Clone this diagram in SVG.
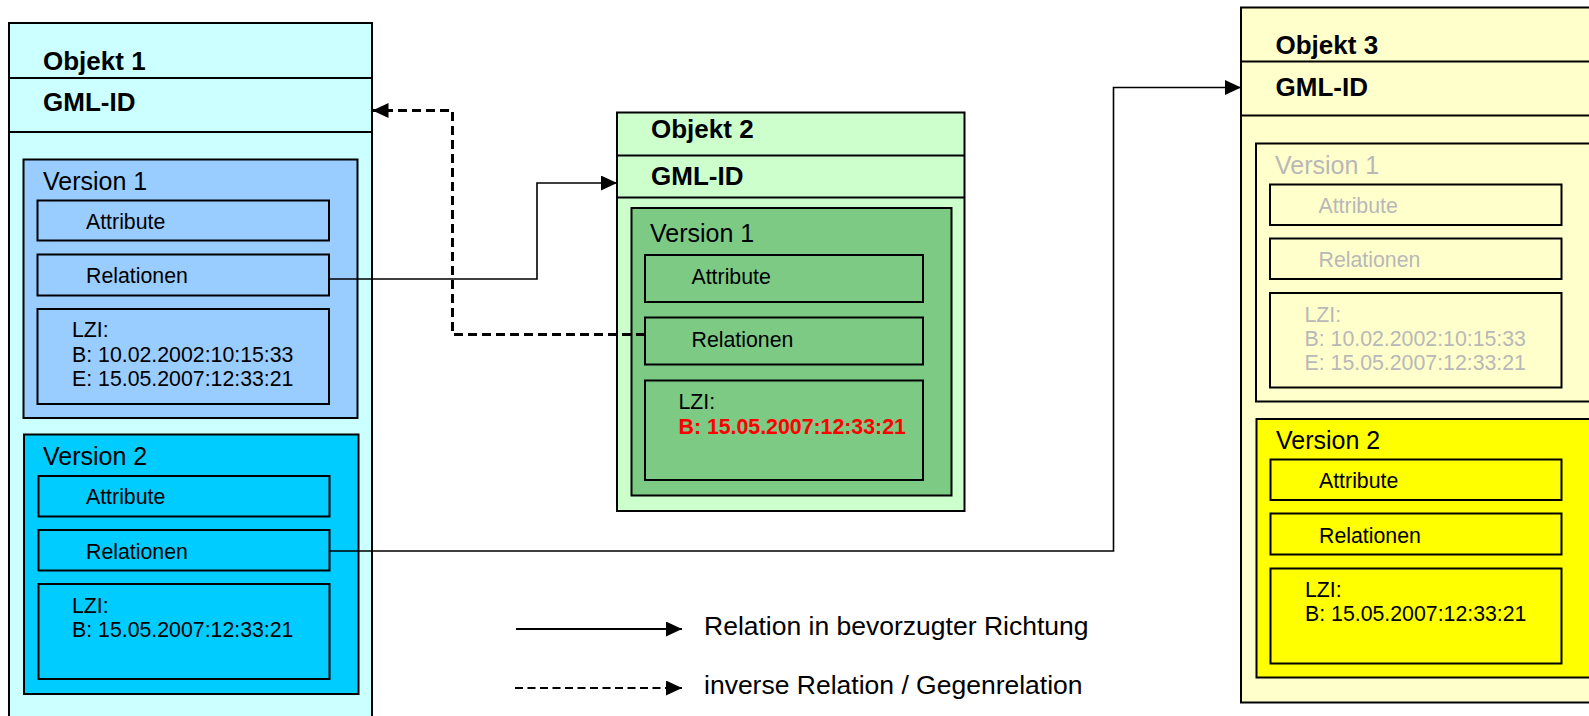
<svg xmlns="http://www.w3.org/2000/svg" width="1589" height="716" viewBox="0 0 1589 716">
<defs>
<style>
.b{stroke:#000;stroke-width:2}
.hd{font-family:"Liberation Sans",Arial,sans-serif;font-weight:bold;font-size:26px;fill:#000}
.ver{font-family:"Liberation Sans",Arial,sans-serif;font-size:25px;fill:#000}
.t{font-family:"Liberation Sans",Arial,sans-serif;font-size:21.3px;fill:#000}
.g{fill:#B8B8B8}
.red{fill:#FF0000;font-weight:bold}
.lg{font-family:"Liberation Sans",Arial,sans-serif;font-size:26.5px;fill:#000}
.c{fill:none;stroke:#000;stroke-width:1.6}
.d{fill:none;stroke:#000;stroke-width:3;stroke-dasharray:9 5}
</style>
<marker id="ah" markerUnits="userSpaceOnUse" markerWidth="16" markerHeight="15" refX="16" refY="7.5" orient="auto">
<path d="M0,0 L16,7.5 L0,15 z" fill="#000"/>
</marker>
</defs>
<rect width="1589" height="716" fill="#fff"/>

<g id="objekt1">
<rect x="9" y="23" width="363" height="710" fill="#CCFFFF" class="b"/>
<line x1="9" y1="78" x2="372" y2="78" class="b"/>
<line x1="9" y1="132" x2="372" y2="132" class="b"/>
<text x="43" y="70" class="hd">Objekt 1</text>
<text x="43" y="111" class="hd">GML-ID</text>
<g id="o1v1">
<rect x="23.5" y="159.5" width="334" height="258.5" fill="#99CCFF" class="b"/>
<text x="43" y="190" class="ver">Version 1</text>
<rect x="37.5" y="200.5" width="291.5" height="40" fill="#99CCFF" class="b"/>
<text x="86" y="229" class="t">Attribute</text>
<rect x="37.5" y="254.5" width="291.5" height="41" fill="#99CCFF" class="b"/>
<text x="86" y="283" class="t">Relationen</text>
<rect x="37.5" y="309" width="291.5" height="95" fill="#99CCFF" class="b"/>
<text x="72" y="337" class="t">LZI:</text>
<text x="72" y="361.5" class="t">B: 10.02.2002:10:15:33</text>
<text x="72" y="385.5" class="t">E: 15.05.2007:12:33:21</text>
</g>
<g id="o1v2">
<rect x="24" y="434.5" width="334.5" height="259.5" fill="#00CCFF" class="b"/>
<text x="43" y="465" class="ver">Version 2</text>
<rect x="38.5" y="476" width="291" height="40.5" fill="#00CCFF" class="b"/>
<text x="86" y="504" class="t">Attribute</text>
<rect x="38.5" y="530" width="291" height="40.5" fill="#00CCFF" class="b"/>
<text x="86" y="558.5" class="t">Relationen</text>
<rect x="38.5" y="584" width="291" height="95" fill="#00CCFF" class="b"/>
<text x="72" y="612.5" class="t">LZI:</text>
<text x="72" y="636.5" class="t">B: 15.05.2007:12:33:21</text>
</g>
</g>

<g id="objekt2">
<rect x="617" y="112.5" width="347.5" height="398.5" fill="#CCFFCC" class="b"/>
<line x1="617" y1="155.5" x2="964.5" y2="155.5" class="b"/>
<line x1="617" y1="197.5" x2="964.5" y2="197.5" class="b"/>
<text x="651" y="137.5" class="hd">Objekt 2</text>
<text x="651" y="185" class="hd">GML-ID</text>
<g id="o2v1">
<rect x="631.5" y="208" width="320" height="287.5" fill="#7DCA85" class="b"/>
<text x="650" y="241.5" class="ver">Version 1</text>
<rect x="645" y="255" width="278" height="47" fill="#7DCA85" class="b"/>
<text x="691.5" y="283.5" class="t">Attribute</text>
<rect x="645" y="317.5" width="278" height="47" fill="#7DCA85" class="b"/>
<text x="691.5" y="346.5" class="t">Relationen</text>
<rect x="645" y="380.5" width="278" height="99.5" fill="#7DCA85" class="b"/>
<text x="678.5" y="409" class="t">LZI:</text>
<text x="678.5" y="433.5" class="t red">B: 15.05.2007:12:33:21</text>
</g>
</g>

<g id="objekt3">
<rect x="1241" y="7.5" width="380" height="695" fill="#FFFFCC" class="b"/>
<line x1="1241" y1="61.5" x2="1600" y2="61.5" class="b"/>
<line x1="1241" y1="115.5" x2="1600" y2="115.5" class="b"/>
<text x="1275.5" y="53.5" class="hd">Objekt 3</text>
<text x="1275.5" y="95.5" class="hd">GML-ID</text>
<g id="o3v1">
<rect x="1256" y="143.5" width="360" height="258" fill="#FFFFCC" class="b"/>
<text x="1275" y="173.5" class="ver g">Version 1</text>
<rect x="1270" y="184.5" width="291.5" height="40.5" fill="#FFFFCC" class="b"/>
<text x="1318.5" y="212.5" class="t g">Attribute</text>
<rect x="1270" y="238.5" width="291.5" height="40.5" fill="#FFFFCC" class="b"/>
<text x="1318.5" y="266.5" class="t g">Relationen</text>
<rect x="1270" y="293" width="291.5" height="94.5" fill="#FFFFCC" class="b"/>
<text x="1304.5" y="321.5" class="t g">LZI:</text>
<text x="1304.5" y="345.5" class="t g">B: 10.02.2002:10:15:33</text>
<text x="1304.5" y="369.5" class="t g">E: 15.05.2007:12:33:21</text>
</g>
<g id="o3v2">
<rect x="1256.5" y="419" width="360" height="258.5" fill="#FFFF00" class="b"/>
<text x="1276" y="448.5" class="ver">Version 2</text>
<rect x="1270.5" y="459.5" width="291" height="40.5" fill="#FFFF00" class="b"/>
<text x="1319" y="487.5" class="t">Attribute</text>
<rect x="1270.5" y="513.5" width="291" height="41" fill="#FFFF00" class="b"/>
<text x="1319" y="542.5" class="t">Relationen</text>
<rect x="1270.5" y="568.5" width="291" height="95" fill="#FFFF00" class="b"/>
<text x="1305" y="596.5" class="t">LZI:</text>
<text x="1305" y="620.5" class="t">B: 15.05.2007:12:33:21</text>
</g>
</g>

<g id="connectors">
<polyline points="329,279 537,279 537,183 617,183" class="c" marker-end="url(#ah)"/>
<polyline points="645,334.5 452.5,334.5 452.5,110.5 372.5,110.5" class="d" marker-end="url(#ah)"/>
<polyline points="329.5,551 1113.5,551 1113.5,87.5 1241,87.5" class="c" marker-end="url(#ah)"/>
</g>

<g id="legend">
<line x1="516" y1="629" x2="682" y2="629" stroke="#000" stroke-width="2" marker-end="url(#ah)"/>
<text x="704" y="635" class="lg">Relation in bevorzugter Richtung</text>
<line x1="515" y1="688" x2="682" y2="688" stroke="#000" stroke-width="2" stroke-dasharray="8 4.5" marker-end="url(#ah)"/>
<text x="704" y="694" class="lg">inverse Relation / Gegenrelation</text>
</g>
</svg>
